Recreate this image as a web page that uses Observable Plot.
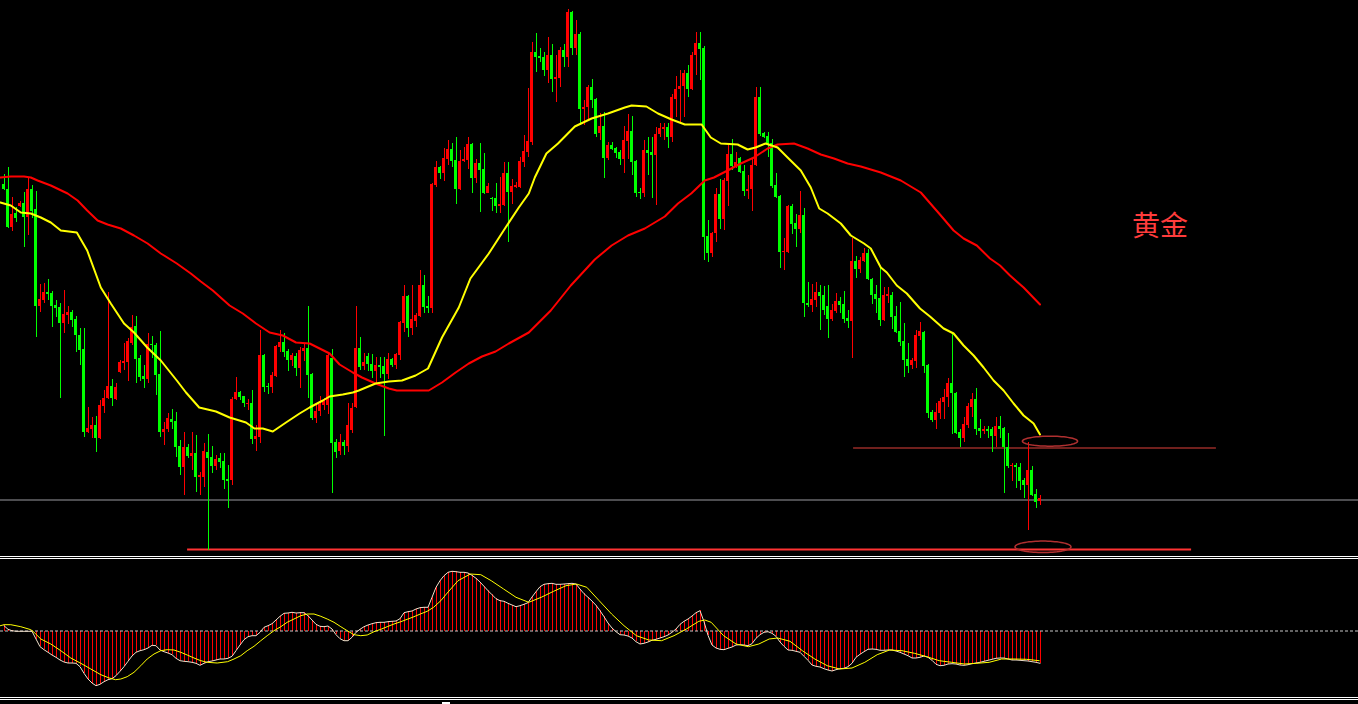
<!DOCTYPE html>
<html><head><meta charset="utf-8">
<script src="https://cdn.jsdelivr.net/npm/d3@7"></script>
<script src="https://cdn.jsdelivr.net/npm/@observablehq/plot@0.6"></script>
<style>
html,body{margin:0;padding:0;background:#000;width:1358px;height:704px;overflow:hidden;}
#wrap{position:relative;width:1358px;height:704px;background:#000;}
#main{position:absolute;left:0;top:0;}
#macd{position:absolute;left:0;top:559px;}
.hl{position:absolute;left:0;width:1358px;height:1px;background:#fff;}
svg{display:block;}
</style></head><body>
<div id="wrap">
<div id="main"></div>
<div class="hl" style="top:556px"></div>
<div class="hl" style="top:558px"></div>
<div id="macd"></div>
<div class="hl" style="top:697px"></div>
<div class="hl" style="top:699px"></div>
<div style="position:absolute;left:442px;top:702px;width:8px;height:2px;background:#fff"></div>
</div>
<script>
// ---------- candle data (bar index = position in arrays) ----------
const open = [
416,411,373,387,394,397,383,411,391,294,
300,308,307,295,293,277,285,288,281,265,
251,168,171,175,162,194,202,214,201,228,
237,238,257,274,242,224,221,256,255,226,
168,171,181,179,154,133,153,144,147,123,
123,148,143,134,142,139,121,120,201,208,
204,196,197,161,163,245,214,213,224,253,
258,249,240,244,232,249,252,226,182,189,
195,195,242,158,149,158,154,170,193,252,
234,244,236,229,235,234,226,241,235,245,
277,304,272,279,284,315,294,292,415,433,
427,441,451,440,411,439,440,456,422,437,
431,407,402,402,394,395,427,408,413,413,
438,448,458,548,544,543,530,545,521,522,
550,543,588,552,566,491,493,513,501,467,
474,442,455,452,448,441,459,469,439,408,
407,450,448,445,466,471,473,463,501,511,
514,527,511,545,557,552,364,347,367,406,
381,419,446,434,442,429,409,411,435,503,
467,464,457,415,404,348,348,394,377,371,
385,297,295,300,308,305,294,281,289,299,
296,282,279,339,331,339,347,321,306,302,
280,304,305,284,269,259,241,235,239,264,
268,235,188,180,187,198,203,217,207,168,
162,175,193,201,172,169,171,171,164,174,
172,153,134,135,133,120,115,130,106,99];
const high = [
426,433,403,393,399,408,422,415,409,316,
317,321,309,300,297,310,294,290,284,272,
272,193,183,184,200,210,308,221,217,240,
257,262,285,284,245,235,267,264,257,269,
178,187,191,188,160,168,156,168,165,128,
157,166,154,145,147,147,135,203,223,209,
204,201,210,175,270,246,217,228,255,270,
267,251,247,247,253,257,294,227,197,204,
202,247,251,161,166,160,197,197,294,263,
247,247,246,243,243,243,247,242,247,279,
315,305,315,287,330,325,304,417,439,434,
452,460,457,463,450,453,463,457,441,457,
447,417,403,417,423,438,438,421,418,443,
465,512,558,567,552,548,563,556,545,553,
556,591,589,580,568,500,515,521,502,487,
488,458,458,453,450,474,486,484,440,412,
460,463,463,473,477,477,477,506,524,530,
530,535,548,568,568,554,380,368,412,421,
422,457,461,448,443,435,425,442,513,513,
468,468,461,427,405,362,395,396,386,409,
392,318,316,318,315,314,315,296,307,303,
309,290,362,344,343,352,351,322,315,332,
313,313,308,294,298,277,257,242,270,278,
269,236,190,197,202,211,222,268,208,171,
183,197,207,212,181,174,174,173,183,184,
173,167,137,137,137,122,158,134,111,105];
const low = [
410,372,369,378,393,353,365,382,263,288,
297,300,273,283,202,267,276,273,248,235,
163,167,162,148,161,187,201,194,200,227,
230,219,255,217,219,212,217,242,205,163,
155,168,171,143,125,105,142,130,108,105,
113,50,127,130,132,111,92,115,200,200,
193,190,156,149,157,208,206,207,223,248,
243,229,234,224,212,239,202,180,177,184,
190,186,107,142,145,145,148,167,192,230,
230,229,222,217,222,164,221,233,231,240,
268,263,265,273,283,287,287,287,413,421,
419,435,433,396,410,438,431,407,417,388,
406,407,389,387,387,394,358,396,412,412,
433,443,455,528,538,524,517,508,498,513,
533,533,545,545,475,475,480,492,463,460,
422,440,450,442,435,427,441,425,403,401,
403,425,402,395,463,460,452,458,483,478,
483,503,510,525,520,340,338,343,358,371,
370,394,430,432,427,404,401,389,434,464,
462,443,412,402,332,330,347,366,353,367,
283,293,288,293,270,285,262,279,287,287,
277,272,242,322,327,338,320,296,287,274,
279,297,271,267,254,223,227,231,232,260,
227,182,178,171,181,181,193,166,166,153,
158,172,183,165,162,166,162,148,153,162,
107,132,119,112,110,102,70,104,92,95];
const close = [
411,373,386,382,397,383,411,389,294,301,
308,306,294,292,277,286,288,280,265,250,
168,172,175,162,195,202,214,202,213,238,
239,259,273,241,223,221,256,255,225,168,
171,182,178,153,133,153,144,147,123,125,
149,142,134,141,138,120,119,201,208,203,
197,197,161,164,245,213,213,225,254,258,
248,240,245,232,250,252,225,182,189,196,
199,245,157,148,158,154,175,192,252,233,
238,236,229,235,233,226,241,235,246,278,
304,272,281,285,315,293,292,416,433,427,
442,451,439,411,439,441,456,422,437,430,
407,414,401,394,396,427,408,414,415,439,
449,459,548,543,542,530,545,521,523,550,
543,588,552,566,491,493,513,500,466,474,
442,455,451,447,441,460,469,438,407,407,
450,447,445,466,472,473,463,503,511,514,
527,511,545,557,551,363,347,367,406,381,
420,446,434,438,428,409,411,435,503,466,
463,457,414,403,348,349,394,376,371,385,
297,295,301,308,304,290,281,290,299,295,
281,279,339,331,340,347,321,305,301,280,
305,306,283,268,258,240,234,240,265,269,
234,187,180,188,199,203,217,207,167,162,
176,194,201,171,169,171,169,164,174,171,
153,134,135,133,119,115,130,105,98,102];

// ---------- moving averages: [bar, value] ----------
const maFast = [[-0.9,398],[1.7,395],[4.2,388],[6.7,387],[9.2,383],[11.7,378],[14.2,370],[18.2,368],[20.8,350],[24.2,313],[26.7,297],[30,277],[32.5,268],[35.8,253],[39.2,240],[43.2,220],[45.5,208],[48.8,193],[53,189],[56.4,183],[60.5,178],[62.6,172],[64.7,172],[67.2,169],[70.5,178],[73.9,187],[76.4,193],[79.7,200],[81.4,204],[84.7,206],[87.2,208],[88.7,210],[92.9,217],[96.2,219],[99.5,220],[102.9,225],[106,232],[109.5,263],[113.7,293],[116.6,322],[121.2,347],[125.4,373],[128.7,393],[131.2,407],[132.7,423],[135.6,447],[138.5,457],[142.7,474],[146.9,482],[151,487],[155.2,493],[156.9,495],[160.6,494],[163.5,487],[166.9,481],[170.2,476],[174.4,476],[176.7,463],[179.2,457],[183.4,456],[185.9,451],[187.9,453],[190.4,457],[193.4,453],[195.9,443],[199.2,430],[201.7,413],[203.8,392],[205.9,387],[209.2,377],[211.7,365],[215,357],[216.7,352],[219.2,333],[220.7,328],[223.2,315],[225.7,307],[229,292],[231.5,284],[234.9,272],[237.4,267],[239.9,255],[242.4,245],[244.9,233],[247.4,220],[249.9,210],[252.4,197],[254.9,185],[257.4,177],[259,166]];
const maSlow = [[-0.9,423],[1.7,424],[5,424],[6.7,423],[8.4,420],[11.7,415],[15.9,407],[18.4,400],[20.8,390],[23.4,380],[25.9,376],[29.2,372],[32.5,365],[35.9,357],[39.2,347],[43.2,337],[46.7,327],[49.2,319],[52.2,310],[56.4,295],[59.7,287],[63,277],[66.4,268],[69.7,265],[73,258],[76.4,257],[78.9,252],[81.4,247],[83.9,236],[87.2,228],[89.5,223],[92.9,217],[96.2,212],[98.2,210],[106.2,210],[109.5,218],[112.9,228],[116.2,237],[119.5,244],[122.9,249],[126.2,257],[131.2,268],[136.7,290],[141.7,315],[147.7,341],[151.9,355],[156,365],[160.2,372],[165.2,384],[168.5,397],[171.8,407],[175.2,420],[177.5,423],[180.9,430],[184.2,437],[187.5,443],[190.9,452],[193.4,456],[197.5,457],[200.9,452],[204.2,446],[207.5,442],[210.9,437],[214.2,434],[219.2,428],[224.2,420],[229.2,408],[234.2,385],[237.4,370],[239.9,362],[243.2,355],[246.5,342],[249,335],[251.5,325],[254.9,313],[259,296]];

// ---------- levels, marks & label ----------
const levelGrey = 100.5;
const levelRed = {y: 152.5, from: 212.4, to: 303.1};
const levelSupport = {y: 51, from: 45.9, to: 296.9};
const ellipses = [{cx: 261.5, cy: 159.3, rx: 6.9, ry: 5}, {cx: 259.75, cy: 53.7, rx: 7, ry: 5.7}];
const label = {bar: 289, value: 373, text: "黄金"};

// ---------- MACD (one value per bar) and signal line [bar, value] ----------
const macd = [
5.3,1.7,0.3,-0.3,-0.3,-0.3,-0.3,-0.3,-8,-15.7,
-18.7,-21.3,-24,-26.3,-29,-31,-32,-32,-32.3,-35.7,
-42.3,-48,-52,-54.7,-53.3,-50.7,-48.7,-47.7,-44.7,-40.3,
-35.7,-30.3,-25,-21.3,-19.7,-18.7,-17,-14.3,-14.7,-19,
-20.7,-22,-23.7,-27.3,-29.7,-30.3,-30.7,-31.3,-32.3,-34.3,
-32.3,-30.7,-30,-29,-28,-28,-27.3,-25.3,-19.7,-14,
-8.7,-5.7,-4.7,-4.7,-1.3,3.7,5.3,7.3,11,14.7,
17.7,18,18.7,18,18.3,18.3,15.3,11,6.7,4.7,
4.3,5,2,-3.7,-7.7,-9.7,-9.7,-6.3,-1.3,1.7,
4.3,6,7.3,8.3,8.7,8.7,9.3,9.7,10,12.3,
18.3,19.3,20,22,23.3,23.7,23.7,33.7,43.7,50.3,
55.3,58.7,59.7,59.3,58.7,58.7,58,55.7,52.7,49,
44.7,40.3,36.3,32.3,30.3,29.7,27.7,26,24.3,25.3,
26.7,28.3,34,39.3,44.3,46.7,47.3,47.7,46.7,46.7,
47,47.3,47.7,47,42,37.3,33.7,30,25.7,20.3,
14.3,8,3,-0.7,-3.7,-4,-5,-7,-10.7,-13,
-12.3,-11,-9.3,-8.3,-7,-5.7,-4,-1.3,2,6.7,
9.7,12,15,18.3,20.3,9.3,-4.3,-14,-17,-18.3,
-18.7,-17.3,-16,-14,-13.7,-14,-14.7,-12.7,-7.3,-3.7,
-1.3,-0.7,-2.3,-5.3,-11,-15.3,-19,-19.3,-20.3,-21.3,
-25.3,-29.3,-34,-35.3,-36,-37.7,-39,-40,-38.7,-37.7,
-37.3,-35.7,-32.3,-26.3,-23.3,-20.7,-18.3,-18,-18.3,-19.3,
-19.3,-19,-19,-20,-21.3,-23,-24.7,-27,-27,-26.3,
-25,-26.3,-29.3,-33.3,-34.7,-34.3,-33,-32.7,-33,-34,
-34.3,-33.7,-32.7,-32,-31.3,-30.3,-29.3,-28.3,-27.3,-27,
-27,-28,-29,-29,-29.3,-29.7,-30,-30.7,-31.3,-32.3];
const signal = [[-0.9,5.3],[0,6.3],[1.7,6.3],[4.2,4.3],[6.7,1.3],[7.5,-1.3],[9.2,-8],[11.7,-13],[14.2,-19.7],[16.7,-27],[19.2,-32.3],[21.7,-38],[24.2,-43.7],[26.3,-47],[27.9,-48.7],[29.2,-48],[30.8,-45.7],[32.5,-41.3],[34.2,-34.7],[35.8,-28],[37.5,-23],[39.2,-19.7],[40.8,-18.7],[42.5,-19],[44.2,-21.3],[45.8,-24],[47.5,-27],[49.2,-29.7],[50.8,-31.3],[53.3,-32],[55.9,-30.7],[57.5,-28],[59.2,-24.7],[60.8,-19.7],[62.5,-15.3],[64.2,-9.7],[65.8,-4.7],[67.5,0.3],[69.2,4.3],[70.8,8.7],[72.5,12],[74.2,15.3],[75.8,17],[77.5,17],[79.2,14.7],[80.8,12],[82.5,8.7],[84.2,4.3],[85.8,0.3],[87.5,-3.7],[89.2,-4.7],[90.8,-4],[92.5,-0.7],[94.2,1.7],[95.8,4.3],[97.5,7],[99.2,9.3],[100.8,11.7],[102.5,14.3],[104.2,17.2],[105.8,19.7],[107.4,23.7],[109.2,30.3],[110.6,37],[113.5,50.3],[116.6,57],[119.2,56.3],[121.8,50.3],[124.9,42],[128,33.7],[131.2,28.7],[134.3,33.7],[137.4,39.7],[140.5,45.3],[143.1,47],[145.7,43.7],[148.8,30.3],[151.9,17],[155,5.3],[158.1,-4.7],[161.2,-9],[164.4,-9.7],[167.5,-4.7],[170.6,2],[173.7,9.7],[175.2,11],[176.8,8.7],[179.9,-4.7],[183,-13],[186.1,-15.7],[188.7,-13],[191.3,-8],[193.4,-7],[196.5,-10.3],[199.6,-19.7],[202.7,-28],[205.8,-34.7],[208.9,-38],[212,-37],[215.2,-31.3],[218.3,-23.7],[221.4,-19],[224.5,-19.7],[227.6,-22.3],[230.7,-25.7],[233.8,-29.7],[236.9,-31.3],[240.1,-33],[243.2,-32.3],[246.3,-31.3],[249.4,-28],[252.5,-28],[255.6,-28.3],[258.8,-29.7]];

// ---------- colours ----------
const UP = "#ff0000", DOWN = "#00ff00";

const candles = open.map((o, i) => ({i, o, h: high[i], l: low[i], c: close[i]}));
const xDomain = [-0.875, 338.625];

function ellipsePts(e) {
  return d3.range(0, 73).map(j => {
    const t = j / 72 * 2 * Math.PI;
    return {x: e.cx + e.rx * Math.cos(t), y: e.cy + e.ry * Math.sin(t)};
  });
}

const mainPlot = Plot.plot({
  width: 1358, height: 553, margin: 0,
  style: {background: "#000", overflow: "visible"},
  x: {domain: xDomain, axis: null},
  y: {domain: [47, 600], axis: null},
  color: {type: "identity"},
  marks: [
    Plot.ruleY([levelGrey], {stroke: "#9a9aa0", strokeWidth: 1}),
    Plot.ruleY([levelRed], {y: "y", x1: "from", x2: "to", stroke: "#e0403a", strokeWidth: 1}),
    Plot.ruleY([levelSupport], {y: "y", x1: "from", x2: "to", stroke: "#ff3333", strokeWidth: 2}),
    Plot.ruleX(candles, {x: "i", y1: "l", y2: "h", stroke: d => d.c >= d.o ? UP : DOWN, strokeWidth: 1, shapeRendering: "crispEdges"}),
    Plot.rect(candles, {
      x1: d => d.i - 0.375, x2: d => d.i + 0.375,
      y1: d => Math.min(d.o, d.c), y2: d => Math.max(Math.max(d.o, d.c), Math.min(d.o, d.c) + 1),
      fill: d => d.c >= d.o ? UP : DOWN, shapeRendering: "crispEdges"
    }),
    Plot.line(maSlow, {x: d => d[0], y: d => d[1], stroke: "#ff0000", strokeWidth: 2}),
    Plot.line(maFast, {x: d => d[0], y: d => d[1], stroke: "#ffff00", strokeWidth: 2}),
    ...ellipses.map(e => Plot.line(ellipsePts(e), {x: "x", y: "y", stroke: "#b03030", strokeWidth: 1.5})),
    Plot.text([label], {x: "bar", y: "value", text: "text", fill: "#ff3c3c", fontSize: 28,
      fontFamily: "'Noto Sans CJK SC', sans-serif", textAnchor: "middle", lineAnchor: "middle"})
  ]
});
document.getElementById("main").appendChild(mainPlot);

const macdData = macd.map((v, i) => ({i, v}));
const macdPlot = Plot.plot({
  width: 1358, height: 137, margin: 0,
  style: {background: "#000", overflow: "visible"},
  x: {domain: xDomain, axis: null},
  y: {domain: [-65.5, 71.5], axis: null},
  marks: [
    Plot.ruleX(macdData, {x: "i", y1: 0, y2: "v", stroke: "#ff0000", strokeWidth: 1, shapeRendering: "crispEdges"}),
    Plot.ruleY([0], {stroke: "#c8c8c8", strokeWidth: 1, strokeDasharray: "3,2"}),
    Plot.line(macdData, {x: "i", y: "v", stroke: "#f2e2cc", strokeWidth: 1}),
    Plot.line(signal, {x: d => d[0], y: d => d[1], stroke: "#ffff00", strokeWidth: 1})
  ]
});
document.getElementById("macd").appendChild(macdPlot);
</script>
</body></html>
